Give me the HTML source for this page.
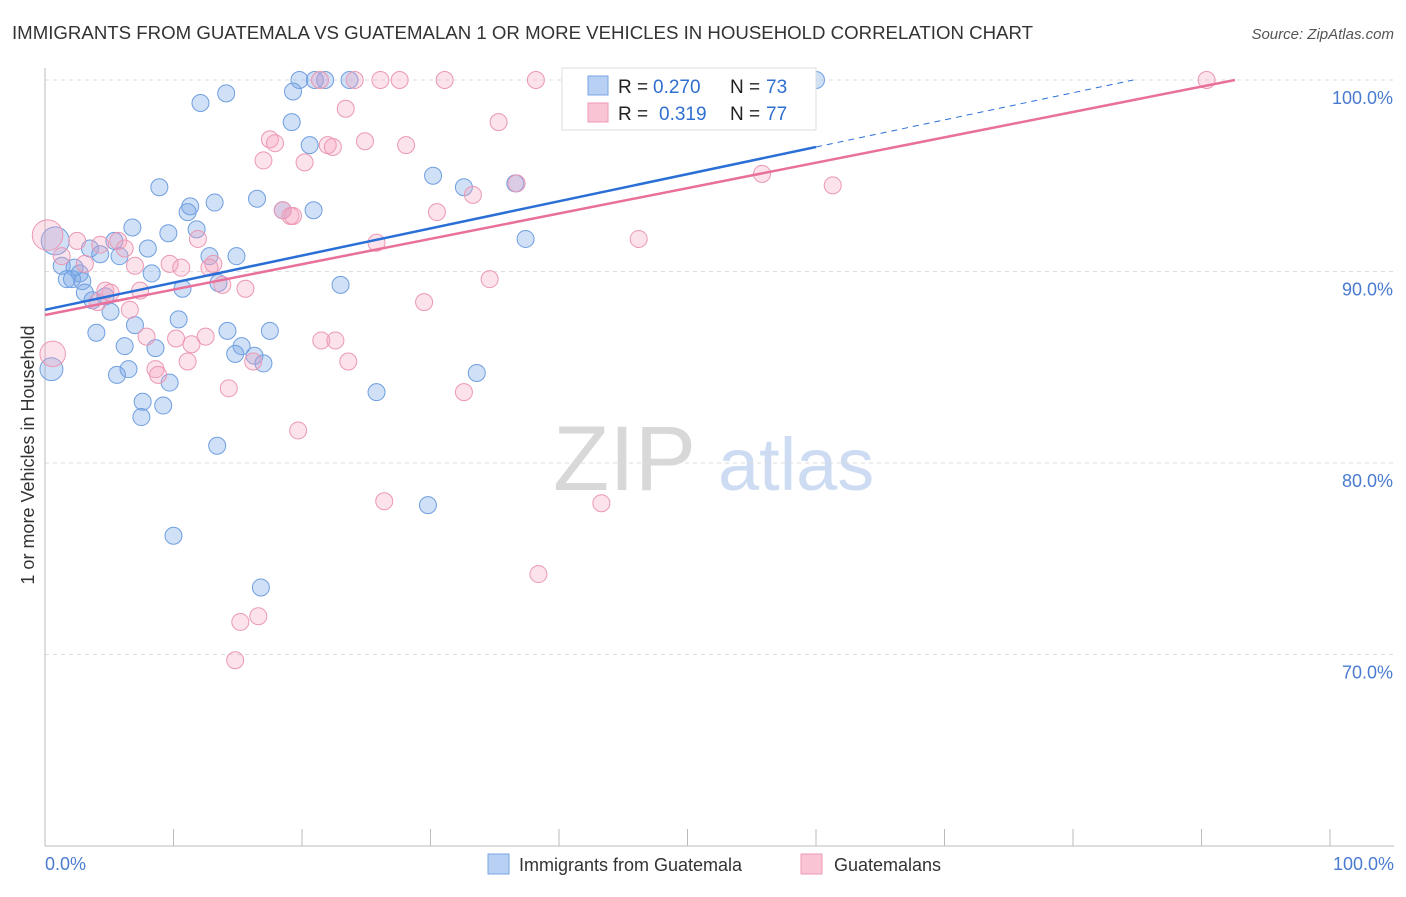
<!DOCTYPE html>
<html><head><meta charset="utf-8"><style>
body{margin:0;background:#fff;font-family:"Liberation Sans",sans-serif}
svg text{font-family:"Liberation Sans",sans-serif}
</style></head><body>
<svg id="chart" width="1406" height="892">
<text x="12" y="39" font-size="18" fill="#333" textLength="1021" lengthAdjust="spacingAndGlyphs">IMMIGRANTS FROM GUATEMALA VS GUATEMALAN 1 OR MORE VEHICLES IN HOUSEHOLD CORRELATION CHART</text>
<text x="1394" y="39" font-size="15" fill="#555" font-style="italic" text-anchor="end">Source: ZipAtlas.com</text>
<g>
<text x="553" y="490" font-size="92" fill="#d8d8d8" font-family="Liberation Serif,serif">ZIP</text>
<text x="718" y="490" font-size="74" fill="#cddcf2">atlas</text>
</g>
<g id="grid"></g>
<g id="axes"></g>
<g id="pts"></g>
<g id="lines"></g>
<text transform="translate(34,455) rotate(-90)" font-size="18" fill="#333" text-anchor="middle">1 or more Vehicles in Household</text>
<text x="45" y="870" font-size="18" fill="#4a7bd0">0.0%</text>
<text x="1394" y="870" font-size="18" fill="#4a7bd0" text-anchor="end">100.0%</text>
<g>
<rect x="562" y="68" width="254" height="62" fill="#fff" stroke="#ddd"/>
<rect x="588" y="76" width="20" height="19" fill="#b8d0f4" stroke="#7aa6e4"/>
<rect x="588" y="103" width="20" height="19" fill="#f9c4d4" stroke="#ee9ab6"/>
<text x="618" y="93" font-size="19" fill="#222">R =</text>
<text x="653" y="93" font-size="19" fill="#2f6fd0">0.270</text>
<text x="730" y="93" font-size="19" fill="#222">N =</text>
<text x="766" y="93" font-size="19" fill="#2f6fd0">73</text>
<text x="618" y="120" font-size="19" fill="#222">R =</text>
<text x="659" y="120" font-size="19" fill="#2f6fd0">0.319</text>
<text x="730" y="120" font-size="19" fill="#222">N =</text>
<text x="766" y="120" font-size="19" fill="#2f6fd0">77</text>
</g>
<g>
<rect x="488" y="854" width="21" height="20" fill="#b8d0f4" stroke="#7aa6e4"/>
<text x="519" y="871" font-size="18" fill="#333">Immigrants from Guatemala</text>
<rect x="801" y="854" width="21" height="20" fill="#f9c4d4" stroke="#ee9ab6"/>
<text x="834" y="871" font-size="18" fill="#333">Guatemalans</text>
</g>
</svg>
<script>
const yTicks=[100,90,80,70];
const yTickLabels=["100.0%","90.0%","80.0%","70.0%"];
const xTicks=[0,10,20,30,40,50,60,70,80,90,100];
const blueX=[19.8,21.8,23.7,21.0,60.0,19.3,14.1,12.1,19.2,20.6,30.2,32.6,36.6,8.9,16.5,13.2,11.3,11.1,18.5,20.9,6.8,9.6,11.8,37.4,5.4,3.5,8.0,14.9,12.8,4.3,5.8,1.3,2.3,2.7,8.3,1.7,2.1,2.9,23.0,10.7,13.5,3.1,3.7,4.7,5.1,7.0,10.4,4.0,14.2,17.5,6.2,8.6,15.3,14.8,16.3,17.0,5.6,6.5,9.7,33.6,25.8,7.6,9.2,7.5,13.4,29.8,10.0,16.8,0.5,0.8];
const blueY=[100,100,100,100,100,99.4,99.3,98.8,97.8,96.6,95.0,94.4,94.6,94.4,93.8,93.6,93.4,93.1,93.2,93.2,92.3,92.0,92.2,91.7,91.6,91.2,91.2,90.8,90.8,90.9,90.8,90.3,90.2,89.9,89.9,89.6,89.6,89.5,89.3,89.1,89.4,88.9,88.5,88.7,87.9,87.2,87.5,86.8,86.9,86.9,86.1,86.0,86.1,85.7,85.6,85.2,84.6,84.9,84.2,84.7,83.7,83.2,83.0,82.4,80.9,77.8,76.2,73.5,84.9,91.6];
const blueW=[1,1,1,1,1,1,1,1,1,1,1,1,1,1,1,1,1,1,1,1,1,1,1,1,1,1,1,1,1,1,1,1,1,1,1,1,1,1,1,1,1,1,1,1,1,1,1,1,1,1,1,1,1,1,1,1,1,1,1,1,1,1,1,1,1,1,1,1,1.35,1.65];
const pinkX=[21.4,24.1,26.1,27.6,31.1,38.2,52.4,90.4,23.4,35.3,17.5,17.9,22.0,22.4,24.9,28.1,17.0,20.2,55.8,61.3,36.7,33.3,18.5,19.1,19.3,30.5,46.2,25.8,2.5,5.7,6.2,4.3,11.9,1.3,3.1,7.0,9.7,10.6,13.1,12.8,34.6,13.8,15.6,7.4,4.7,5.1,4.1,6.6,29.5,7.9,12.5,10.2,11.4,21.5,22.6,11.1,16.2,23.6,8.6,8.8,14.3,32.6,19.7,26.4,43.3,38.4,15.2,16.6,14.8,0.6,0.2];
const pinkY=[100,100,100,100,100,100,100,100,98.5,97.8,96.9,96.7,96.6,96.5,96.8,96.6,95.8,95.7,95.1,94.5,94.6,94.0,93.2,92.9,92.9,93.1,91.7,91.5,91.6,91.6,91.2,91.4,91.7,90.8,90.4,90.3,90.4,90.2,90.4,90.2,89.6,89.3,89.1,89.0,89.0,88.9,88.4,88.0,88.4,86.6,86.6,86.5,86.2,86.4,86.4,85.3,85.3,85.3,84.9,84.6,83.9,83.7,81.7,78.0,77.9,74.2,71.7,72.0,69.7,85.7,91.9];
const pinkW=[1,1,1,1,1,1,1,1,1,1,1,1,1,1,1,1,1,1,1,1,1,1,1,1,1,1,1,1,1,1,1,1,1,1,1,1,1,1,1,1,1,1,1,1,1,1,1,1,1,1,1,1,1,1,1,1,1,1,1,1,1,1,1,1,1,1,1,1,1,1.5,1.8];
const blueFit=[88.0,0.1417];
const pinkFit=[87.73,0.1325];

const NS="http://www.w3.org/2000/svg";
const X=v=>45+v*12.85;
const Y=v=>80+(100-v)*19.15;
function mk(tag,at,parent){const e=document.createElementNS(NS,tag);for(const k in at)e.setAttribute(k,at[k]);document.getElementById(parent).appendChild(e);return e;}
yTicks.forEach((t,i)=>{
 const g=mk('line',{x1:45,x2:1394,y1:Y(t),y2:Y(t),stroke:'#ddd','stroke-dasharray':'4,4'},'grid');
 
 
 const l=mk('text',{x:1393,y:Y(t)+24,'font-size':18,fill:'#4a7bd0','text-anchor':'end'},'grid');
 l.textContent=yTickLabels[i];
 
 
});
const ax=mk('line',{x1:45,x2:45,y1:68,y2:846,stroke:'#bbb'},'axes');


const bx=mk('line',{x1:45,x2:1394,y1:846,y2:846,stroke:'#bbb'},'axes');


xTicks.forEach(t=>{
 const k=mk('line',{x1:X(t),x2:X(t),y1:829,y2:846,stroke:'#bbb'},'axes');
 
 
});
function pts(xs,ys,ws,fill,stroke,name){
 xs.forEach((x,i)=>{
  const c=mk('circle',{cx:X(x),cy:Y(ys[i]),r:8.5*ws[i],fill:fill,stroke:stroke,'stroke-width':1},'pts');
  
  
 });
}
pts(blueX,blueY,blueW,'rgba(120,165,230,0.35)','#6f9fe0','point-immigrants');
pts(pinkX,pinkY,pinkW,'rgba(245,160,190,0.3)','#eb98b4','point-guatemalans');
function fit(f,col,name,solidEnd){
 const xEnd=(100-f[0])/f[1];
 const se=Math.min(solidEnd,xEnd);
 const a=mk('line',{x1:X(0),y1:Y(f[0]),x2:X(se),y2:Y(f[0]+f[1]*se),stroke:col,'stroke-width':2.5},'lines');
 
 
 if(se<xEnd){
  const b=mk('line',{x1:X(se),y1:Y(f[0]+f[1]*se),x2:X(xEnd),y2:Y(100),stroke:col,'stroke-width':1,'stroke-dasharray':'6,5'},'lines');
  
  
 }
}
fit(blueFit,'#2a6fd6','trend-line-immigrants',60);
fit(pinkFit,'#e8709a','trend-line-guatemalans',100);
</script>
</body></html>
